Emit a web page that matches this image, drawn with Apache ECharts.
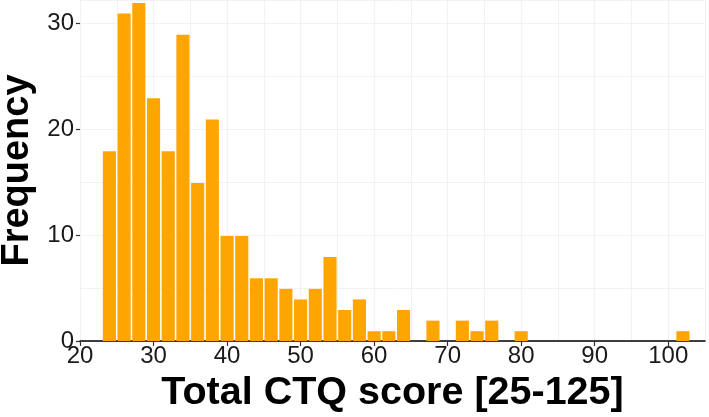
<!DOCTYPE html>
<html>
<head>
<meta charset="utf-8">
<script src="https://cdn.jsdelivr.net/npm/echarts@6/dist/echarts.min.js"></script>
<style>html,body{margin:0;padding:0;background:#fff}#c{width:709px;height:417px}</style>
</head>
<body>
<div id="c"></div>
<script>
// Histogram bins (width 2), bin centers and counts
const binWidth = 2;
const binCenters = [24,26,28,30,32,34,36,38,40,42,44,46,48,50,52,54,56,58,60,62,64,66,68,70,72,74,76,78,80,82,84,86,88,90,92,94,96,98,100,102];
const counts =     [18,31,32,23,18,29,15,21,10,10, 6, 6, 5, 4, 5, 8, 3, 4, 1, 1, 3, 0, 2, 0, 2, 1, 2, 0, 1, 0, 0, 0, 0, 0, 0, 0, 0, 0, 0, 1];
const xTickLabels = [20,30,40,50,60,70,80,90,100];
const yTickLabels = [0,10,20,30];
const xTitle = 'Total CTQ score [25-125]';
const yTitle = 'Frequency';

const data = binCenters.map((c, i) => [c - binWidth / 2, c + binWidth / 2, counts[i]]).filter(d => d[2] > 0);

const font = 'Liberation Sans, Arial, sans-serif';
const chart = echarts.init(document.getElementById('c'), null, {renderer: 'canvas'});
chart.setOption({
  animation: false,
  backgroundColor: '#fff',
  grid: {left: 80, right: 4, top: 0, bottom: 76, containLabel: false, outerBoundsMode: 'none'},
  xAxis: [{
    type: 'value', min: 20, max: 105, interval: 10,
    name: xTitle, nameLocation: 'middle', nameGap: 31,
    nameTextStyle: {fontFamily: font, fontWeight: 'bold', fontSize: 39.5, color: '#000'},
    axisLine: {show: true, onZero: false, lineStyle: {color: '#000', width: 1.5}},
    axisTick: {show: true, length: 5, lineStyle: {color: '#333', width: 1.2}, customValues: xTickLabels},
    axisLabel: {fontFamily: font, fontSize: 24, color: '#1a1a1a', margin: 3, customValues: xTickLabels},
    splitLine: {show: true, lineStyle: {color: '#e6e6e6', width: 1.2}}
  }, {
    type: 'value', min: 20, max: 105, interval: 5, position: 'bottom',
    axisLine: {show: false}, axisTick: {show: false}, axisLabel: {show: false},
    splitLine: {show: true, lineStyle: {color: '#f2f2f2', width: 1}}
  }],
  yAxis: [{
    type: 'value', min: 0, max: 32.2, interval: 10,
    name: yTitle, nameLocation: 'middle', nameGap: 42,
    nameTextStyle: {fontFamily: font, fontWeight: 'bold', fontSize: 38, color: '#000'},
    axisLine: {show: false},
    axisTick: {show: true, length: 4, lineStyle: {color: '#333', width: 1.2}, customValues: yTickLabels},
    axisLabel: {fontFamily: font, fontSize: 24, color: '#1a1a1a', margin: 6, customValues: yTickLabels},
    splitLine: {show: true, lineStyle: {color: '#e6e6e6', width: 1.2}}
  }, {
    type: 'value', min: 0, max: 32.2, interval: 5,
    axisLine: {show: false}, axisTick: {show: false}, axisLabel: {show: false},
    splitLine: {show: true, lineStyle: {color: '#f2f2f2', width: 1}}
  }],
  series: [{
    type: 'custom',
    xAxisIndex: 0, yAxisIndex: 0,
    data: data,
    renderItem: function (params, api) {
      const p0 = api.coord([api.value(0), 0]);
      const p1 = api.coord([api.value(1), api.value(2)]);
      const gap = 0.8;
      return {
        type: 'rect',
        shape: {x: p0[0] + gap, y: p1[1] + gap, width: p1[0] - p0[0] - 2 * gap, height: p0[1] - p1[1] - gap},
        style: {fill: '#FFA500'}
      };
    },
    encode: {x: [0, 1], y: 2}
  }]
});
</script>
</body>
</html>
